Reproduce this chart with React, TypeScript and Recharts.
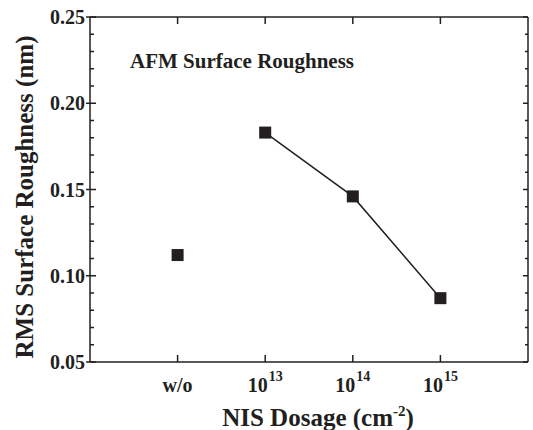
import { Label, Scatter, ScatterChart, XAxis, YAxis } from 'recharts';

const categories = ['w/o', '10^13', '10^14', '10^15'];
const roughness = [0.112, 0.183, 0.146, 0.087];
const yTicks = [
  0.05, 0.06, 0.07, 0.08, 0.09, 0.1, 0.11, 0.12, 0.13, 0.14, 0.15, 0.16, 0.17, 0.18, 0.19, 0.2, 0.21, 0.22,
  0.23, 0.24, 0.25,
];
const xTicks = categories.map((_, i) => i);

const ink = '#231f20';
const font = '"Liberation Serif", "Times New Roman", serif';

const points = categories.map((c, i) => ({ x: i, y: roughness[i], label: c }));
const untreated = points.slice(0, 1);
const dosed = points.slice(1);

const isMajor = (v: number) => Math.round(v * 100) % 5 === 0;

function Square(props: any) {
  const { cx, cy } = props;
  return <rect x={cx - 6} y={cy - 6} width={12} height={12} fill={ink} />;
}

// invisible marks so the mirrored top/right axes get drawn
function Nothing() {
  return <g />;
}

function BottomTick({ x, y, payload }: any) {
  const [base, exp] = categories[payload.value].split('^');
  return (
    <g>
      <line x1={x} x2={x} y1={y} y2={y - 7} stroke={ink} strokeWidth={1.5} />
      <text x={x} y={y + 30} textAnchor="middle" fontFamily={font} fontWeight="bold" fontSize={20} fill={ink}>
        {base}
        {exp && (
          <tspan dx={1} dy={-11} fontSize={14}>
            {exp}
          </tspan>
        )}
      </text>
    </g>
  );
}

function TopTick({ x, y }: any) {
  return <line x1={x} x2={x} y1={y} y2={y + 7} stroke={ink} strokeWidth={1.5} />;
}

function LeftTick({ x, y, payload }: any) {
  const v = payload.value as number;
  const major = isMajor(v);
  return (
    <g>
      <line x1={major ? x - 4 : x} x2={x + (major ? 6 : 4)} y1={y} y2={y} stroke={ink} strokeWidth={1.5} />
      {major && (
        <text x={x - 5} y={y} dy="0.35em" textAnchor="end" fontFamily={font} fontWeight="bold" fontSize={20} fill={ink}>
          {v.toFixed(2)}
        </text>
      )}
    </g>
  );
}

function RightTick({ x, y, payload }: any) {
  const major = isMajor(payload.value);
  return <line x1={x} x2={x - (major ? 5 : 3)} y1={y} y2={y} stroke={ink} strokeWidth={1.5} />;
}

export default function App() {
  return (
    <div style={{ position: 'absolute', left: 0, top: 0, width: 533, height: 430, background: '#fff' }}>
      <ScatterChart width={533} height={430} margin={{ top: 15, right: 3, bottom: 0, left: 0 }}>
        <XAxis
          dataKey="x"
          type="number"
          domain={[-1, 4]}
          ticks={xTicks}
          interval={0}
          allowDataOverflow
          height={68}
          tickSize={0}
          tickMargin={0}
          tickLine={false}
          axisLine={{ stroke: ink, strokeWidth: 1.5 }}
          tick={<BottomTick />}
        >
          <Label
            content={({ viewBox }: any) => (
              <text
                x={viewBox.x + viewBox.width / 2 + 9}
                y={viewBox.y + 64}
                textAnchor="middle"
                fontFamily={font}
                fontWeight="bold"
                fontSize={25}
                fill={ink}
              >
                NIS Dosage (cm
                <tspan dy={-10} fontSize={15}>
                  -2
                </tspan>
                <tspan dy={10}>)</tspan>
              </text>
            )}
          />
        </XAxis>
        <XAxis
          xAxisId="top"
          orientation="top"
          dataKey="x"
          type="number"
          domain={[-1, 4]}
          ticks={xTicks}
          interval={0}
          allowDataOverflow
          height={2}
          tickSize={0}
          tickMargin={0}
          tickLine={false}
          axisLine={{ stroke: ink, strokeWidth: 1.5 }}
          tick={<TopTick />}
        />
        <YAxis
          dataKey="y"
          type="number"
          domain={[0.05, 0.25]}
          ticks={yTicks}
          interval={0}
          allowDataOverflow
          width={90}
          tickSize={0}
          tickMargin={0}
          tickLine={false}
          axisLine={{ stroke: ink, strokeWidth: 1.5 }}
          tick={<LeftTick />}
        >
          <Label
            content={({ viewBox }: any) => {
              const cx = 33;
              const cy = viewBox.y + 180;
              return (
                <g>
                  <text
                    x={cx}
                    y={cy}
                    transform={`rotate(-90 ${cx} ${cy})`}
                    textAnchor="middle"
                    fontFamily={font}
                    fontWeight="bold"
                    fontSize={25}
                    fill={ink}
                  >
                    RMS Surface Roughness (nm)
                  </text>
                  <text x={viewBox.x + viewBox.width + 40} y={viewBox.y + 51} fontFamily={font} fontWeight="bold" fontSize={21} fill={ink}>
                    AFM Surface Roughness
                  </text>
                </g>
              );
            }}
          />
        </YAxis>
        <YAxis
          yAxisId="right"
          orientation="right"
          dataKey="y"
          type="number"
          domain={[0.05, 0.25]}
          ticks={yTicks}
          interval={0}
          allowDataOverflow
          width={2}
          tickSize={0}
          tickMargin={0}
          tickLine={false}
          axisLine={{ stroke: ink, strokeWidth: 1.5 }}
          tick={<RightTick />}
        />
        <Scatter data={points} xAxisId="top" yAxisId="right" shape={<Nothing />} isAnimationActive={false} />
        <Scatter data={untreated} fill={ink} shape={<Square />} isAnimationActive={false} />
        <Scatter
          data={dosed}
          fill={ink}
          shape={<Square />}
          line={{ stroke: ink, strokeWidth: 1.5 }}
          isAnimationActive={false}
        />
      </ScatterChart>
    </div>
  );
}
